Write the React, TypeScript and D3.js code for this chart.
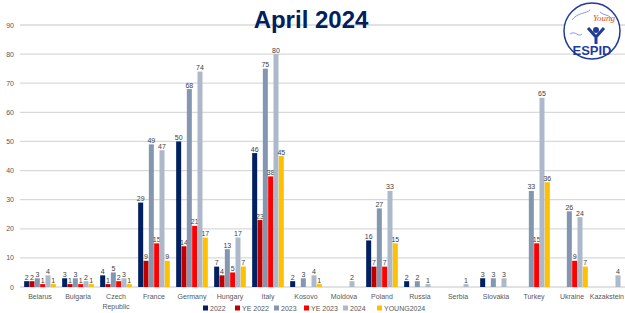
import React, { useRef, useEffect } from "react";
import * as d3 from "d3";

const categories = [
  "Belarus", "Bulgaria", "Czech Republic", "France", "Germany", "Hungary", "Italy", "Kosovo",
  "Moldova", "Poland", "Russia", "Serbia", "Slovakia", "Turkey", "Ukraine", "Kazakstein",
];
const seriesNames = ["2022", "YE 2022", "2023", "YE 2023", "2024", "YOUNG2024"];
const seriesColors = ["#002060", "#c00000", "#8497b0", "#ff0000", "#adb9ca", "#ffc000"];

const v2022 = [2, 3, 4, 29, 50, 7, 46, 2, null, 16, 2, null, 3, null, null, null];
const vYE2022 = [2, 1, 1, 9, 14, 4, 23, null, null, 7, null, null, null, null, null, null];
const v2023 = [3, 3, 5, 49, 68, 13, 75, 3, null, 27, 2, null, 3, 33, 26, null];
const vYE2023 = [1, 1, 2, 15, 21, 5, 38, null, null, 7, null, null, null, 15, 9, null];
const v2024 = [4, 2, 3, 47, 74, 17, 80, 4, 2, 33, 1, 1, 3, 65, 24, 4];
const vYoung2024 = [1, 1, 1, 9, 17, 7, 45, 1, null, 15, null, null, null, 36, 7, null];
const yTicks = [0, 10, 20, 30, 40, 50, 60, 70, 80, 90];

const allSeries = [v2022, vYE2022, v2023, vYE2023, v2024, vYoung2024];

const App: React.FC = () => {
  const svgRef = useRef<SVGSVGElement | null>(null);
  const width = 625;
  const height = 313;

  useEffect(() => {
    const svg = d3.select(svgRef.current);
    svg.selectAll("*").remove();
    const font = "Liberation Sans, Arial, sans-serif";

    const x = d3.scaleBand<string>().domain(categories).range([21, 629]).paddingInner(0.15).paddingOuter(0.075);
    const xs = d3.scaleBand<string>().domain(seriesNames).range([0, x.bandwidth()]).padding(0.06);
    const y = d3.scaleLinear().domain([0, 90]).range([287, 25]);

    // gridlines
    svg.append("g")
      .selectAll("line")
      .data(yTicks)
      .enter()
      .append("line")
      .attr("x1", 20)
      .attr("x2", width)
      .attr("y1", (d) => y(d))
      .attr("y2", (d) => y(d))
      .attr("stroke", "#d9d9d9")
      .attr("stroke-width", 1.3);

    svg.append("g")
      .selectAll("text")
      .data(yTicks)
      .enter()
      .append("text")
      .attr("x", 14)
      .attr("y", (d) => y(d) + 2.5)
      .attr("text-anchor", "end")
      .style("font-size", "7px")
      .style("font-family", font)
      .attr("fill", "#595959")
      .text((d) => d);

    // bars
    allSeries.forEach((vals, si) => {
      const name = seriesNames[si];
      const pts = categories
        .map((c, i) => ({ c, v: vals[i] }))
        .filter((d) => d.v !== null) as { c: string; v: number }[];
      const g = svg.append("g");
      g.selectAll("rect")
        .data(pts)
        .enter()
        .append("rect")
        .attr("x", (d) => x(d.c)! + xs(name)!)
        .attr("y", (d) => y(d.v))
        .attr("width", xs.bandwidth())
        .attr("height", (d) => y(0) - y(d.v))
        .attr("fill", seriesColors[si]);
      g.selectAll("text")
        .data(pts)
        .enter()
        .append("text")
        .attr("x", (d) => x(d.c)! + xs(name)! + xs.bandwidth() / 2)
        .attr("y", (d) => y(d.v) - 1.5)
        .attr("text-anchor", "middle")
        .style("font-size", "7px")
        .style("font-family", font)
        .attr("fill", "#404040")
        .text((d) => d.v);
    });

    // category labels
    const xl = svg.append("g");
    categories.forEach((c) => {
      const cx = x(c)! + x.bandwidth() / 2;
      const words = c === "Czech Republic" ? ["Czech", "Republic"] : [c];
      const last = c === "Kazakstein";
      words.forEach((w, wi) => {
        xl.append("text")
          .attr("x", last ? width - 1 : cx)
          .attr("y", 299 + wi * 10)
          .attr("text-anchor", last ? "end" : "middle")
          .style("font-size", "7px")
          .style("font-family", font)
          .attr("fill", "#595959")
          .text(w);
      });
    });

    // legend
    const legend = svg.append("g");
    const legendWidths = [32, 39, 30, 39, 34, 50];
    let lx = 203;
    seriesNames.forEach((n, i) => {
      legend.append("rect")
        .attr("x", lx)
        .attr("y", 305.5)
        .attr("width", 5)
        .attr("height", 5)
        .attr("fill", seriesColors[i]);
      legend.append("text")
        .attr("x", lx + 7)
        .attr("y", 310.5)
        .style("font-size", "7px")
        .style("font-family", font)
        .attr("fill", "#595959")
        .text(n);
      lx += legendWidths[i];
    });

    // title
    svg.append("text")
      .attr("x", 311)
      .attr("y", 28)
      .attr("text-anchor", "middle")
      .style("font-size", "24px")
      .style("font-weight", "bold")
      .style("font-family", font)
      .attr("fill", "#002060")
      .text("April 2024");

    // logo
    const logo = svg.append("g");
    logo.append("circle")
      .attr("cx", 592)
      .attr("cy", 31)
      .attr("r", 28)
      .attr("fill", "#ffffff")
      .attr("stroke", "#1f3c99")
      .attr("stroke-width", 1.5);
    logo.append("path")
      .attr("d", "M572,20 C578,12 586,14 590,10 M600,12 C604,16 610,14 612,20 M570,34 C576,30 578,38 582,34")
      .attr("stroke", "#6a7fc0")
      .attr("stroke-width", 0.8)
      .attr("fill", "none");
    logo.append("text")
      .attr("x", 604)
      .attr("y", 21)
      .attr("text-anchor", "middle")
      .style("font-size", "9px")
      .style("font-style", "italic")
      .style("font-family", "Liberation Serif, serif")
      .attr("fill", "#e0502a")
      .text("Young");
    logo.append("text")
      .attr("x", 592)
      .attr("y", 55)
      .attr("text-anchor", "middle")
      .style("font-size", "13px")
      .style("font-weight", "bold")
      .style("font-family", font)
      .attr("fill", "#1f3c99")
      .text("ESPID");
    logo.append("circle").attr("cx", 596).attr("cy", 30).attr("r", 3).attr("fill", "#1f3c99");
    logo.append("path")
      .attr("d", "M588,28 L596,37 L604,28 M596,35 L596,44")
      .attr("stroke", "#1f3c99")
      .attr("stroke-width", 3)
      .attr("fill", "none");
  }, []);

  return (
    <div style={{ position: "absolute", left: 0, top: 0, width, height, background: "#fff" }}>
      <svg ref={svgRef} width={width} height={height}></svg>
    </div>
  );
};

export default App;
